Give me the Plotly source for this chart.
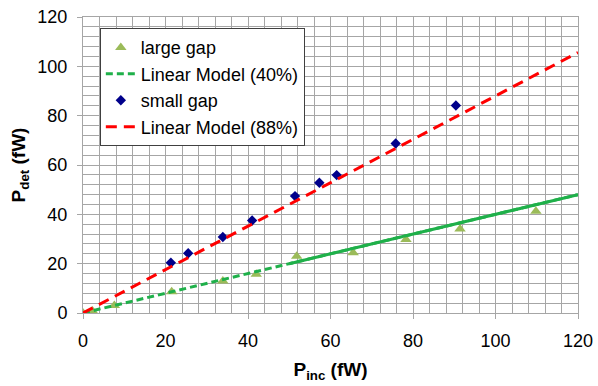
import plotly.graph_objects as go

# data
large_x = [0, 2.3, 7.6, 21.5, 33.9, 42, 51.8, 65.5, 78.3, 91.4, 109.8]
large_y = [0, 0.8, 3.0, 8.6, 13.0, 15.7, 23.0, 24.4, 29.8, 34.1, 41.2]
small_x = [21.3, 25.5, 33.9, 41.0, 51.4, 57.3, 61.5, 75.8, 90.4]
small_y = [20.4, 24.2, 30.8, 37.5, 47.4, 52.8, 55.9, 68.7, 84.1]

model40_x = [0, 120]
model40_y = [0, 48]
model40_solid_x = [50, 120]
model40_solid_y = [20, 48]
model88_x = [0, 120]
model88_y = [0, 105.6]

green_marker = "#9bbb59"
green_line = "#1fb04a"
navy = "#00008b"
red = "#ff0000"
font_family = "Liberation Sans, Arial, sans-serif"

fig = go.Figure()
fig.add_trace(go.Scatter(x=model40_solid_x, y=model40_solid_y, mode="lines",
                         line=dict(color=green_line, width=3), showlegend=False,
                         hoverinfo="skip"))
fig.add_trace(go.Scatter(x=large_x, y=large_y, mode="markers", name="large gap",
                         legendgroup="a",
                         marker=dict(symbol="triangle-up", size=10, color=green_marker)))
fig.add_trace(go.Scatter(x=model40_x, y=model40_y, mode="lines", name="Linear Model (40%)",
                         legendgroup="b",
                         line=dict(color=green_line, width=3, dash="7px,4px")))
fig.add_trace(go.Scatter(x=small_x, y=small_y, mode="markers", name="small gap",
                         legendgroup="c",
                         marker=dict(symbol="diamond", size=8, color=navy)))
fig.add_trace(go.Scatter(x=model88_x, y=model88_y, mode="lines", name="Linear Model (88%)",
                         legendgroup="d",
                         line=dict(color=red, width=3, dash="11px,7px")))

grid_color = "#a6a6a6"
axis_common = dict(
    showgrid=True, gridcolor=grid_color, gridwidth=1,
    minor=dict(dtick=4, showgrid=True, gridcolor=grid_color, gridwidth=1),
    showline=True, linecolor=grid_color, linewidth=1, mirror=True,
    ticks="outside", ticklen=5, tickcolor=grid_color,
    zeroline=False, dtick=20, automargin=False,
    ticklabelstandoff=6, ticklabeloverflow="allow",
    tickfont=dict(size=18, color="black", family=font_family),
)

fig.update_layout(
    width=598, height=386,
    margin=dict(l=83, r=20, t=17, b=73),
    paper_bgcolor="white", plot_bgcolor="white",
    font=dict(family=font_family, color="black"),
    xaxis=dict(range=[0, 120], title=dict(text="<b>P<sub>inc</sub> (fW)</b>",
                                          font=dict(size=19), standoff=13),
               **axis_common),
    yaxis=dict(range=[0, 120], title=dict(text="<b>P<sub>det</sub> (fW)</b>",
                                          font=dict(size=19), standoff=6),
               **axis_common),
    legend=dict(x=0.034, y=0.962, xanchor="left", yanchor="top",
                bgcolor="white", bordercolor="#404040", borderwidth=1,
                font=dict(size=18, color="black"), tracegroupgap=0,
                traceorder="grouped"),
    showlegend=True,
)

fig.write_html("out.html", config={"displayModeBar": False},
               post_script="document.body.style.margin='0';document.body.style.overflow='hidden';")
